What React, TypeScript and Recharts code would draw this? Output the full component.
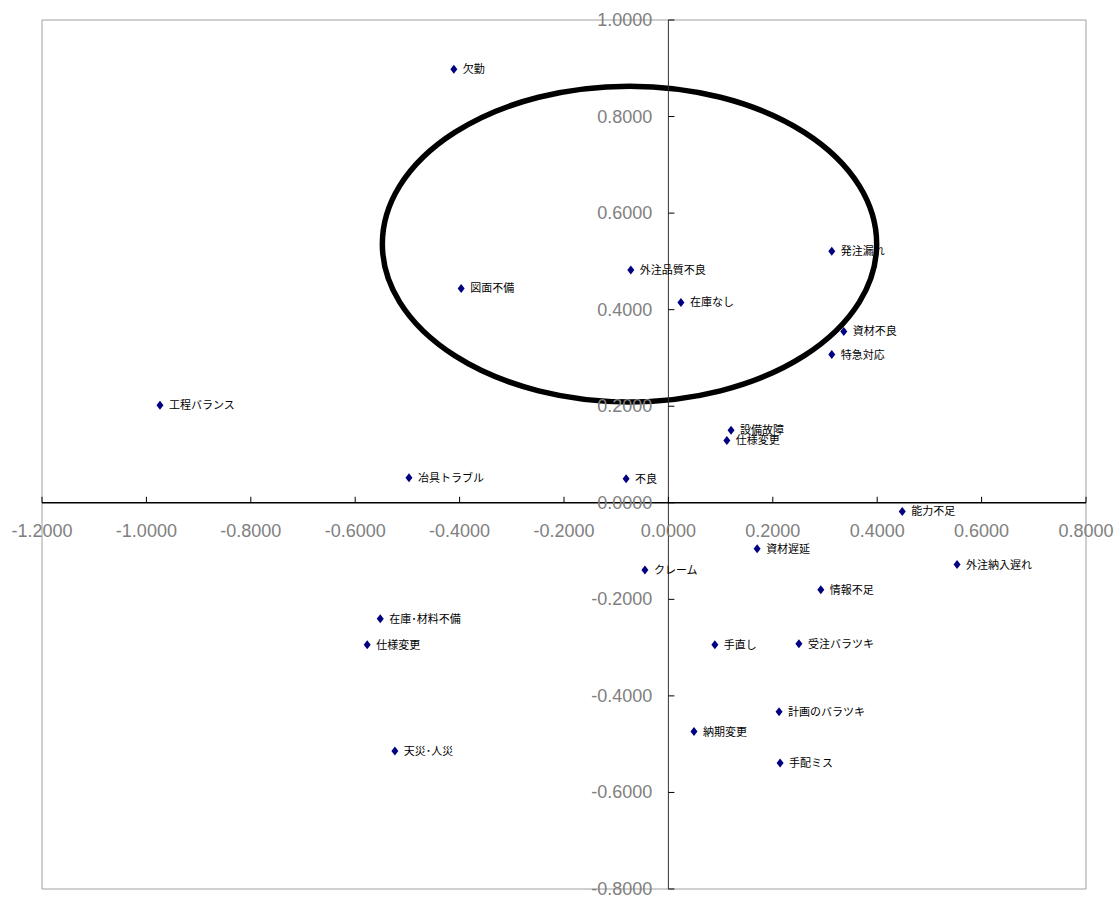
import React from 'react';
import { ScatterChart, Scatter, XAxis, YAxis, ReferenceLine, ReferenceDot, ReferenceArea } from 'recharts';

// Item names and their two scores (dimension 1 = x, dimension 2 = y)
const itemNames = [
  '欠勤', '図面不備', '外注品質不良', '在庫なし', '発注漏れ', '資材不良', '特急対応',
  '工程バランス', '設備故障', '仕様変更', '冶具トラブル', '不良', '能力不足', '外注納入遅れ',
  '資材遅延', 'クレーム', '情報不足', '在庫･材料不備', '仕様変更', '手直し', '受注バラツキ',
  '計画のバラツキ', '納期変更', '手配ミス', '天災･人災',
];
const dim1 = [
  -0.411, -0.397, -0.072, 0.024, 0.313, 0.336, 0.313,
  -0.974, 0.120, 0.112, -0.497, -0.081, 0.448, 0.553,
  0.170, -0.045, 0.292, -0.552, -0.577, 0.089, 0.250,
  0.212, 0.049, 0.214, -0.524,
];
const dim2 = [
  0.898, 0.444, 0.482, 0.415, 0.521, 0.355, 0.307,
  0.202, 0.150, 0.129, 0.052, 0.050, -0.018, -0.128,
  -0.095, -0.139, -0.180, -0.240, -0.294, -0.294, -0.292,
  -0.433, -0.474, -0.539, -0.514,
];

const xTicks = [-1.2, -1.0, -0.8, -0.6, -0.4, -0.2, 0, 0.2, 0.4, 0.6, 0.8];
const yTicks = [1.0, 0.8, 0.6, 0.4, 0.2, 0, -0.2, -0.4, -0.6, -0.8];

// bounding box of the hand-drawn ring (data units)
const ringX = [-0.548, 0.399];
const ringY = [0.209, 0.863];

const points = itemNames.map((name, i) => ({ name, x: dim1[i], y: dim2[i] }));

const tickFont = '"Liberation Sans", Arial, sans-serif';
const labelFont = '"Noto Sans CJK JP", "Noto Sans", sans-serif';

const Marker = (props: any) => {
  const { cx, cy, payload } = props;
  return (
    <g>
      <path
        d={`M${cx},${cy - 4.5}L${cx + 3.5},${cy}L${cx},${cy + 4.5}L${cx - 3.5},${cy}Z`}
        fill="#000080"
      />
      <text x={cx + 9} y={cy + 4} fontSize={11} fill="#000" fontFamily={labelFont}>
        {payload.name}
      </text>
    </g>
  );
};

const fmt = (v: number) => (Math.abs(v) < 1e-9 ? 0 : v).toFixed(4);

export default function App() {
  return (
    <div style={{ position: 'absolute', left: 0, top: 0 }}>
      <ScatterChart width={1116} height={897} margin={{ top: 20, right: 30, bottom: 8, left: 42 }}>
        <XAxis type="number" dataKey="x" domain={[-1.2, 0.8]} hide allowDataOverflow />
        <YAxis type="number" dataKey="y" domain={[-0.8, 1.0]} hide allowDataOverflow />

        {/* plot frame */}
        <ReferenceArea x1={-1.2} x2={0.8} y1={-0.8} y2={1.0} fill="none" stroke="#a0a0a0" strokeWidth={1} />

        {/* axes crossing at zero */}
        <ReferenceLine x={0} stroke="#333" strokeWidth={1} />
        <ReferenceLine y={0} stroke="#000" strokeWidth={1.5} />

        {xTicks.map((t) => (
          <ReferenceDot
            key={`xt${t}`}
            x={t}
            y={0}
            r={0}
            shape={(p: any) => (
              <g>
                <line x1={p.cx} y1={p.cy} x2={p.cx} y2={p.cy - 6} stroke="#000" strokeWidth={1} />
                <text
                  x={p.cx}
                  y={p.cy + 34}
                  textAnchor="middle"
                  fontSize={18}
                  fill="#808080"
                  fontFamily={tickFont}
                >
                  {fmt(t)}
                </text>
              </g>
            )}
          />
        ))}

        {yTicks.map((t) => (
          <ReferenceDot
            key={`yt${t}`}
            x={0}
            y={t}
            r={0}
            shape={(p: any) => (
              <g>
                <line x1={p.cx} y1={p.cy} x2={p.cx + 6} y2={p.cy} stroke="#000" strokeWidth={1} />
                <text
                  x={p.cx - 16}
                  y={p.cy + 6}
                  textAnchor="end"
                  fontSize={18}
                  fill="#808080"
                  fontFamily={tickFont}
                >
                  {fmt(t)}
                </text>
              </g>
            )}
          />
        ))}

        <Scatter data={points} shape={<Marker />} isAnimationActive={false} />

        {/* ring drawn around the upper group */}
        <ReferenceArea
          x1={ringX[0]}
          x2={ringX[1]}
          y1={ringY[0]}
          y2={ringY[1]}
          shape={(p: any) => (
            <ellipse
              cx={p.x + p.width / 2}
              cy={p.y + p.height / 2}
              rx={Math.abs(p.width) / 2}
              ry={Math.abs(p.height) / 2}
              fill="none"
              stroke="#000"
              strokeWidth={5.5}
            />
          )}
        />
      </ScatterChart>
    </div>
  );
}
